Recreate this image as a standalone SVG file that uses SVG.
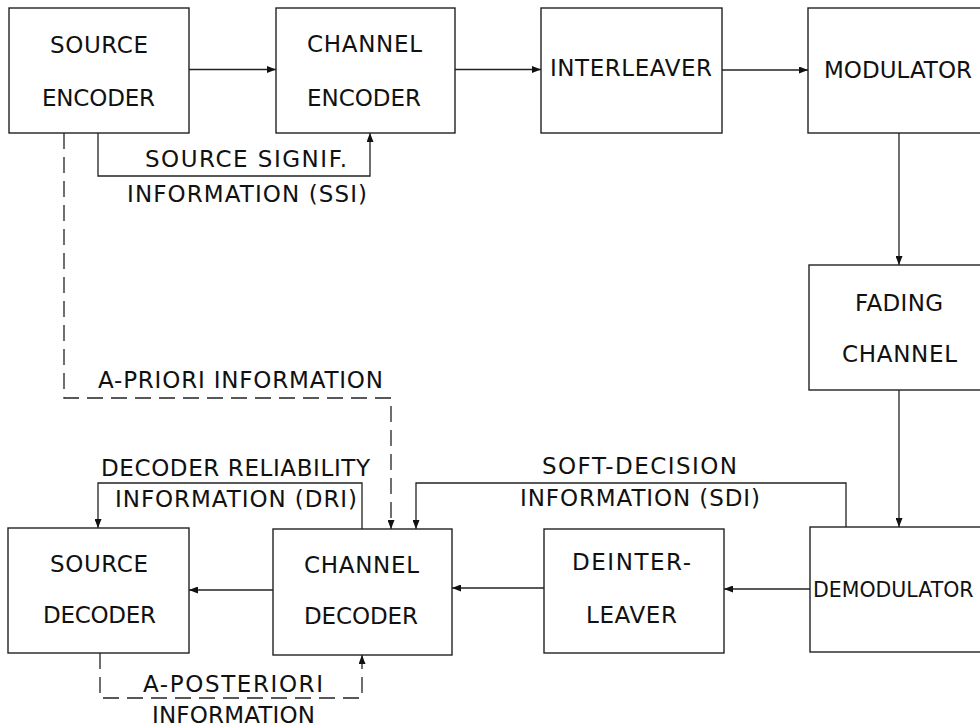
<svg xmlns="http://www.w3.org/2000/svg" width="980" height="727" viewBox="0 0 980 727">
<defs>
<marker id="ah" markerUnits="userSpaceOnUse" markerWidth="9" markerHeight="7" refX="9" refY="3.5" orient="auto">
<path d="M0,0 L9,3.5 L0,7 z" fill="#111"/>
</marker>
<style>
.box{fill:#fff;stroke:#222;stroke-width:1.4}
.t{font-family:"DejaVu Sans","Liberation Sans",sans-serif;font-size:23px;fill:#111;text-anchor:middle}
.ts{font-family:"DejaVu Sans","Liberation Sans",sans-serif;font-size:20.5px;fill:#111}
.c{fill:none;stroke:#222;stroke-width:1.3;marker-end:url(#ah)}
.d{fill:none;stroke:#222;stroke-width:1.3;stroke-dasharray:16 8;marker-end:url(#ah)}
</style>
</defs>
<rect width="980" height="727" fill="#fff"/>
<g id="connectors">
<path class="c" d="M189,69.5 H276"/>
<path class="c" d="M455,69.5 H541"/>
<path class="c" d="M722,70 H808"/>
<path class="c" d="M899,133 V265"/>
<path class="c" d="M899,390 V527"/>
<path class="c" d="M810,589 H724"/>
<path class="c" d="M544,588 H452"/>
<path class="c" d="M273,590 H189"/>
<path class="c" d="M98,133 V176 H370 V133"/>
<path class="c" d="M846,527 V483 H416 V529"/>
<path class="c" d="M362,529 V483 H98 V528"/>
<path class="d" d="M64,133 V398 H391 V529"/>
<path class="d" d="M100,653 V698 H362 V655"/>
<text class="t" x="246" y="167" textLength="202" lengthAdjust="spacing">SOURCE SIGNIF.</text>
<text class="t" x="247" y="202" textLength="240" lengthAdjust="spacing">INFORMATION (SSI)</text>
<text class="t" x="240.5" y="388" textLength="285" lengthAdjust="spacing">A-PRIORI INFORMATION</text>
<text class="t" x="235.5" y="476" textLength="269" lengthAdjust="spacing">DECODER RELIABILITY</text>
<text class="t" x="236" y="507" textLength="242" lengthAdjust="spacing">INFORMATION (DRI)</text>
<text class="t" x="639.5" y="474" textLength="195" lengthAdjust="spacing">SOFT-DECISION</text>
<text class="t" x="640" y="506" textLength="240" lengthAdjust="spacing">INFORMATION (SDI)</text>
<text class="t" x="233" y="692" textLength="180" lengthAdjust="spacing">A-POSTERIORI</text>
<text class="t" x="233.5" y="723" textLength="163" lengthAdjust="spacing">INFORMATION</text>
</g>
<g id="source-encoder">
<rect class="box" x="9" y="8" width="180" height="125"/>
<text class="t" x="99" y="53" textLength="98" lengthAdjust="spacing">SOURCE</text>
<text class="t" x="98.5" y="106" textLength="113" lengthAdjust="spacing">ENCODER</text>
</g>
<g id="channel-encoder">
<rect class="box" x="276" y="8" width="179" height="125"/>
<text class="t" x="364.5" y="52" textLength="115" lengthAdjust="spacing">CHANNEL</text>
<text class="t" x="364" y="106" textLength="114" lengthAdjust="spacing">ENCODER</text>
</g>
<g id="interleaver">
<rect class="box" x="541" y="8" width="181" height="125"/>
<text class="t" x="631" y="76" textLength="162" lengthAdjust="spacing">INTERLEAVER</text>
</g>
<g id="modulator">
<rect class="box" x="808" y="8" width="180" height="125"/>
<text class="t" x="898" y="78" textLength="148" lengthAdjust="spacing">MODULATOR</text>
</g>
<g id="fading-channel">
<rect class="box" x="809" y="265" width="180" height="125"/>
<text class="t" x="899" y="311" textLength="88" lengthAdjust="spacing">FADING</text>
<text class="t" x="899.5" y="362" textLength="115" lengthAdjust="spacing">CHANNEL</text>
</g>
<g id="demodulator">
<rect class="box" x="810" y="527" width="180" height="125"/>
<text class="ts" x="813" y="597">DEMODULATOR</text>
</g>
<g id="deinterleaver">
<rect class="box" x="544" y="529" width="180" height="124"/>
<text class="t" x="631.5" y="570" textLength="119" lengthAdjust="spacing">DEINTER-</text>
<text class="t" x="631.5" y="623" textLength="91" lengthAdjust="spacing">LEAVER</text>
</g>
<g id="channel-decoder">
<rect class="box" x="273" y="529" width="179" height="126"/>
<text class="t" x="361.5" y="573" textLength="115" lengthAdjust="spacing">CHANNEL</text>
<text class="t" x="361" y="624" textLength="114" lengthAdjust="spacing">DECODER</text>
</g>
<g id="source-decoder">
<rect class="box" x="8" y="528" width="181" height="125"/>
<text class="t" x="99" y="572" textLength="98" lengthAdjust="spacing">SOURCE</text>
<text class="t" x="99.5" y="623" textLength="113" lengthAdjust="spacing">DECODER</text>
</g>
</svg>
